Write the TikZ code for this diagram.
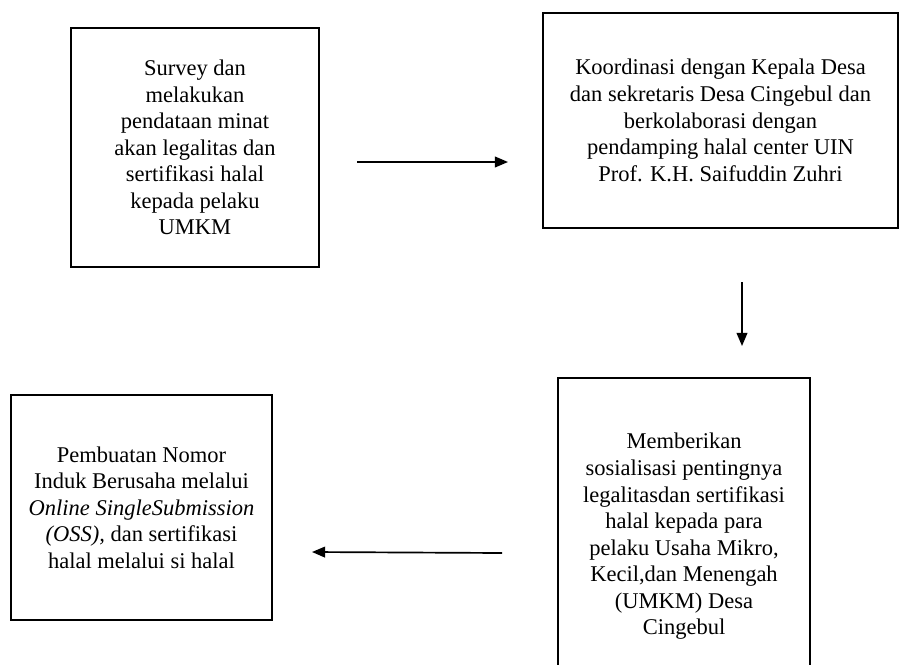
\documentclass[tikz,border=0pt]{standalone}
\usepackage{fontspec}
\setmainfont{Liberation Serif}
\usetikzlibrary{arrows.meta}
\tikzset{
	kotak/.style={draw, line width=1.2pt, align=center, inner sep=0pt, font=\fontsize{16}{18.9}\selectfont},
	panah/.style={line width=1.2pt, -{Triangle[length=0.33cm, width=0.27cm]}}
}

\begin{document}
\begin{tikzpicture}[x=0.025cm, y=-0.025cm]
			%%%%% START %%%%%
			
			\useasboundingbox (0, 0) rectangle (906, 664);
			
			\node[kotak, minimum width=6.2cm, minimum height=5.975cm] (survey) at (195, 147.5)
				{Survey dan\\melakukan\\pendataan minat\\akan legalitas dan\\sertifikasi halal\\kepada pelaku\\UMKM};
			
			\node[kotak, minimum width=8.875cm, minimum height=5.375cm] (koordinasi) at (720.5, 120.5)
				{Koordinasi dengan Kepala Desa\\dan sekretaris Desa Cingebul dan\\berkolaborasi dengan\\pendamping halal center UIN\\Prof. K.H. Saifuddin Zuhri};
			
			\node[kotak, minimum width=6.3cm, minimum height=7.925cm] (sosialisasi) at (684, 536.5)
				{Memberikan\\sosialisasi pentingnya\\legalitasdan sertifikasi\\halal kepada para\\pelaku Usaha Mikro,\\Kecil,dan Menengah\\(UMKM) Desa\\Cingebul};
			
			\node[kotak, minimum width=6.525cm, minimum height=5.625cm] (nib) at (141.5, 507.5)
				{Pembuatan Nomor\\Induk Berusaha melalui\\\textit{Online SingleSubmission}\\\textit{(OSS),} dan sertifikasi\\halal melalui si halal};
			
			\coordinate (p1) at (357, 162);
			\coordinate (p2) at (508, 162);
			\coordinate (p3) at (742, 282);
			\coordinate (p4) at (742, 346);
			\coordinate (p5) at (502, 553);
			\coordinate (p6) at (312, 552);
			
			\draw[panah] (p1) -- (p2);
			\draw[panah] (p3) -- (p4);
			\draw[panah] (p5) -- (p6);
			
			%%%%% END %%%%%
\end{tikzpicture}
\end{document}
